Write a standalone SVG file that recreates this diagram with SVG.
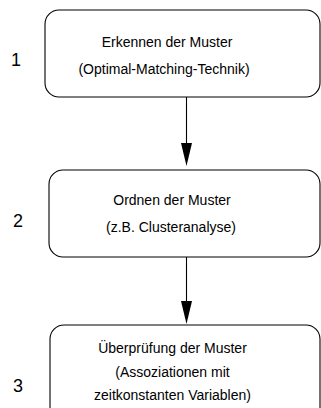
<svg xmlns="http://www.w3.org/2000/svg" width="321" height="408" viewBox="0 0 321 408">
<style>
.box{fill:#fff;stroke:#000;stroke-width:1.1}
.t{font-family:"Liberation Sans",Arial,sans-serif;font-size:14px;fill:#000;text-anchor:middle}
.n{font-family:"Liberation Sans",Arial,sans-serif;font-size:18px;fill:#000;text-anchor:middle}
.c{stroke:#000;stroke-width:1.1;fill:none}
.ah{fill:#000}
</style>
<rect width="321" height="408" fill="#fff"/>
<g id="node1">
<rect class="box" x="45" y="10" width="275" height="87" rx="14" ry="14"/>
<text class="t" x="167" y="47">Erkennen der Muster</text>
<text class="t" x="164" y="74">(Optimal-Matching-Technik)</text>
<text class="n" x="16" y="66">1</text>
</g>
<g id="node2">
<rect class="box" x="49" y="170" width="271" height="87" rx="14" ry="14"/>
<text class="t" x="172" y="205">Ordnen der Muster</text>
<text class="t" x="171" y="232">(z.B. Clusteranalyse)</text>
<text class="n" x="18" y="227">2</text>
</g>
<g id="node3">
<rect class="box" x="50" y="325" width="270" height="100" rx="14" ry="14"/>
<text class="t" x="172.5" y="353">Überprüfung der Muster</text>
<text class="t" x="172.5" y="377">(Assoziationen mit</text>
<text class="t" x="172.5" y="400">zeitkonstanten Variablen)</text>
<text class="n" x="18" y="392">3</text>
</g>
<g id="connectors">
<line class="c" x1="186.5" y1="97" x2="186.5" y2="146"/>
<polygon class="ah" points="181,143 192,143 186.5,166"/>
<line class="c" x1="186.5" y1="257" x2="186.5" y2="304"/>
<polygon class="ah" points="181,301 192,301 186.5,324"/>
</g>
</svg>
